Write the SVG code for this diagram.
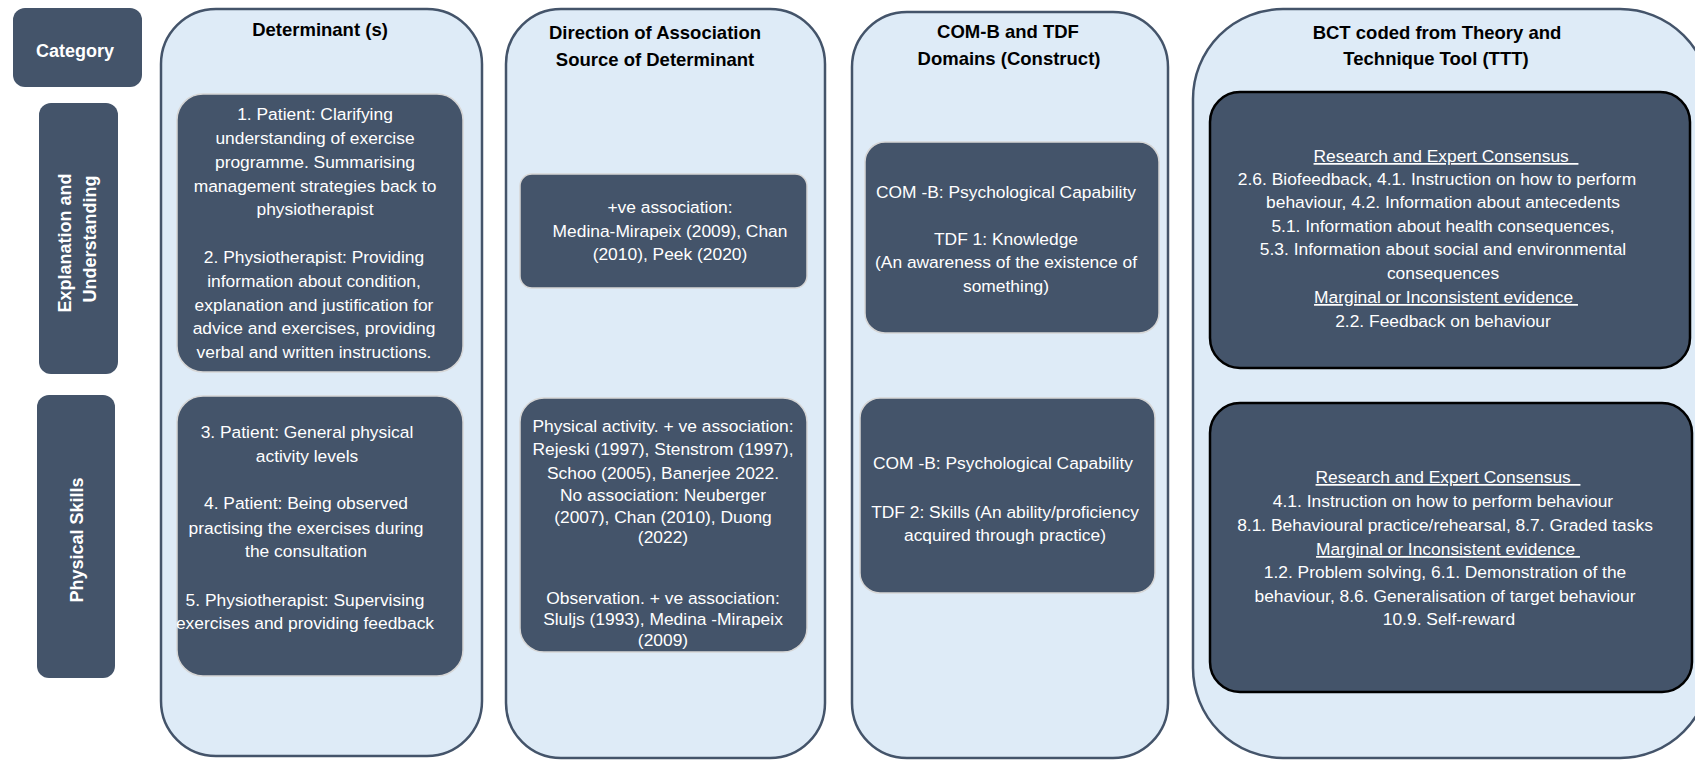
<svg xmlns="http://www.w3.org/2000/svg" width="1695" height="760" viewBox="0 0 1695 760">
<style>
.col{fill:#DEEBF7;stroke:#44546A;stroke-width:2.5}
.box{fill:#44546A;stroke:#D6D6D6;stroke-width:1.5}
.bct{fill:#44546A;stroke:#000;stroke-width:2.5}
.cat{fill:#44546A}
.hd{font-family:"Liberation Sans",Arial,sans-serif;font-weight:bold;font-size:18.5px;fill:#000;text-anchor:middle}
.ct{font-family:"Liberation Sans",Arial,sans-serif;font-weight:bold;font-size:18px;fill:#fff;text-anchor:middle}
.tx{font-family:"Liberation Sans",Arial,sans-serif;font-size:17.4px;fill:#fff;text-anchor:middle}
.u{text-decoration:underline}
</style>
<rect width="1695" height="760" fill="#fff"/>
<g id="connectors"></g>

<g id="category">
<rect class="cat" x="13" y="8" width="129" height="79" rx="12"/>
<text class="ct" x="75" y="57">Category</text>
</g>
<g id="cat-explanation">
<rect class="cat" x="39" y="103" width="79" height="271" rx="12"/>
<text class="ct" transform="translate(71,243) rotate(-90)">Explanation and</text>
<text class="ct" transform="translate(96,239) rotate(-90)">Understanding</text>
</g>
<g id="cat-physical">
<rect class="cat" x="37" y="395" width="78" height="283" rx="12"/>
<text class="ct" transform="translate(83,540) rotate(-90)">Physical Skills</text>
</g>

<g id="col-determinant">
<rect class="col" x="161" y="9" width="321" height="747" rx="55"/>
<text class="hd" x="320" y="36">Determinant (s)</text>
</g>
<g id="det-1">
<rect class="box" x="177" y="94" width="286" height="278" rx="26"/>
<text class="tx" x="315" y="120">1. Patient: Clarifying</text>
<text class="tx" x="315" y="144">understanding of exercise</text>
<text class="tx" x="315" y="168">programme. Summarising</text>
<text class="tx" x="315" y="192">management strategies back to</text>
<text class="tx" x="315" y="215">physiotherapist</text>
<text class="tx" x="314" y="263">2. Physiotherapist: Providing</text>
<text class="tx" x="314" y="287">information about condition,</text>
<text class="tx" x="314" y="311">explanation and justification for</text>
<text class="tx" x="314" y="334">advice and exercises, providing</text>
<text class="tx" x="314" y="358">verbal and written instructions.</text>
</g>
<g id="det-2">
<rect class="box" x="177" y="396" width="286" height="280" rx="26"/>
<text class="tx" x="307" y="438">3. Patient: General physical</text>
<text class="tx" x="307" y="462">activity levels</text>
<text class="tx" x="306" y="509">4. Patient: Being observed</text>
<text class="tx" x="306" y="534">practising the exercises during</text>
<text class="tx" x="306" y="557">the consultation</text>
<text class="tx" x="305" y="606">5. Physiotherapist: Supervising</text>
<text class="tx" x="305" y="629">exercises and providing feedback</text>
</g>

<g id="col-direction">
<rect class="col" x="506" y="9" width="319" height="749" rx="55"/>
<text class="hd" x="655" y="39">Direction of Association</text>
<text class="hd" x="655" y="66">Source of Determinant</text>
</g>
<g id="dir-1">
<rect class="box" x="520" y="174" width="287" height="114" rx="12"/>
<text class="tx" x="670" y="213">+ve association:</text>
<text class="tx" x="670" y="237">Medina-Mirapeix (2009), Chan</text>
<text class="tx" x="670" y="260">(2010), Peek (2020)</text>
</g>
<g id="dir-2">
<rect class="box" x="520" y="398" width="287" height="254" rx="24"/>
<text class="tx" x="663" y="432">Physical activity. + ve association:</text>
<text class="tx" x="663" y="455">Rejeski (1997),  Stenstrom (1997),</text>
<text class="tx" x="663" y="479">Schoo (2005), Banerjee 2022.</text>
<text class="tx" x="663" y="501">No association: Neuberger</text>
<text class="tx" x="663" y="523">(2007), Chan (2010), Duong</text>
<text class="tx" x="663" y="543">(2022)</text>
<text class="tx" x="663" y="604">Observation. + ve association:</text>
<text class="tx" x="663" y="625">Sluljs (1993), Medina -Mirapeix</text>
<text class="tx" x="663" y="646">(2009)</text>
</g>

<g id="col-comb">
<rect class="col" x="852" y="12" width="316" height="746" rx="55"/>
<text class="hd" x="1008" y="38">COM-B and TDF</text>
<text class="hd" x="1009" y="65">Domains (Construct)</text>
</g>
<g id="comb-1">
<rect class="box" x="865" y="142" width="294" height="191" rx="20"/>
<text class="tx" x="1006" y="198">COM -B: Psychological Capability</text>
<text class="tx" x="1006" y="245">TDF 1: Knowledge</text>
<text class="tx" x="1006" y="268">(An awareness of the existence of</text>
<text class="tx" x="1006" y="292">something)</text>
</g>
<g id="comb-2">
<rect class="box" x="860" y="398" width="295" height="195" rx="20"/>
<text class="tx" x="1003" y="469">COM -B: Psychological Capability</text>
<text class="tx" x="1005" y="518">TDF 2: Skills (An ability/proficiency</text>
<text class="tx" x="1005" y="541">acquired through practice)</text>
</g>

<g id="col-bct">
<rect class="col" x="1193" y="9" width="517" height="749" rx="90"/>
<text class="hd" x="1437" y="39">BCT coded from Theory and</text>
<text class="hd" x="1436" y="65">Technique Tool (TTT)</text>
</g>
<g id="bct-1">
<rect class="bct" x="1210" y="92" width="480" height="276" rx="30"/>
<text class="tx u" x="1446" y="162">Research and Expert Consensus&#160;&#160;</text>
<text class="tx" x="1437" y="185">2.6. Biofeedback, 4.1. Instruction on how to perform</text>
<text class="tx" x="1443" y="208">behaviour, 4.2. Information about antecedents</text>
<text class="tx" x="1443" y="232">5.1. Information about health consequences,</text>
<text class="tx" x="1443" y="255">5.3. Information about social and environmental</text>
<text class="tx" x="1443" y="279">consequences</text>
<text class="tx u" x="1446" y="303">Marginal or Inconsistent evidence&#160;</text>
<text class="tx" x="1443" y="327">2.2. Feedback on behaviour</text>
</g>
<g id="bct-2">
<rect class="bct" x="1210" y="403" width="482" height="289" rx="30"/>
<text class="tx u" x="1448" y="483">Research and Expert Consensus&#160;&#160;</text>
<text class="tx" x="1443" y="507">4.1. Instruction on how to perform behaviour</text>
<text class="tx" x="1445" y="531">8.1. Behavioural practice/rehearsal, 8.7. Graded tasks</text>
<text class="tx u" x="1448" y="555">Marginal or Inconsistent evidence&#160;</text>
<text class="tx" x="1445" y="578">1.2. Problem solving, 6.1. Demonstration of the</text>
<text class="tx" x="1445" y="602">behaviour, 8.6. Generalisation of target behaviour</text>
<text class="tx" x="1449" y="625">10.9. Self-reward</text>
</g>
</svg>
